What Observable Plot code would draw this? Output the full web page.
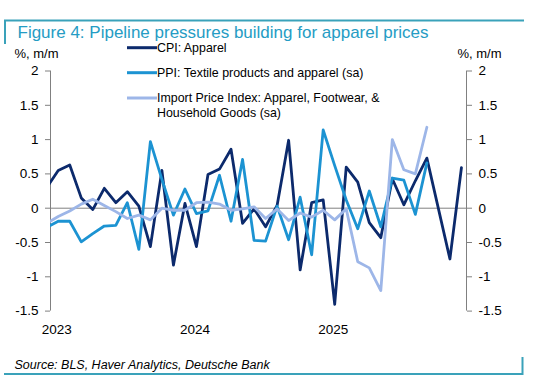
<!DOCTYPE html>
<html>
<head>
<meta charset="utf-8">
<script src="https://cdn.jsdelivr.net/npm/d3@7"></script>
<script src="https://cdn.jsdelivr.net/npm/@observablehq/plot@0.6"></script>
<style>
  html, body { margin: 0; padding: 0; background: #fff; }
  #wrap { position: relative; width: 545px; height: 385px; overflow: hidden; font-family: "Liberation Sans", Arial, sans-serif; }
  #wrap > svg { position: absolute; left: 0; top: 0; }
</style>
</head>
<body>
<div id="wrap"></div>
<script>
// ---- Data (month index: 0 = Jan 2023) ----
const months = d3.range(-1, 36); // Nov 2022 .. Dec 2025
const cpiApparel = [0.30, 0.55, 0.63, 0.15, -0.02, 0.29, 0.08, 0.24, 0.03, -0.56, 0.55, -0.83, 0.07,
  -0.56, 0.49, 0.57, 0.86, -0.22, -0.01, -0.27, 0.04, 0.99, -0.90, 0.08, 0.12,
  -1.40, 0.60, 0.38, -0.21, -0.43, 0.43, 0.05, 0.40, 0.73, null, -0.74, 0.59];
const ppiTextile = [-0.28, -0.19, -0.19, -0.49, -0.37, -0.26, -0.25, 0.08, -0.60, 0.97, 0.42, -0.10, 0.28,
  -0.08, -0.04, 0.48, -0.19, 0.71, -0.47, -0.48, 0.03, -0.46, 0.16, -0.68, 1.14,
  0.62, 0.12, -0.30, 0.25, -0.27, 0.44, 0.41, -0.09, 0.66];
const importPrice = [-0.22, -0.12, -0.04, 0.06, 0.13, 0.04, -0.05, -0.15, -0.10, -0.17, 0.00, -0.03, -0.03,
  0.08, 0.09, 0.06, -0.03, -0.01, 0.02, -0.15, -0.01, -0.18, -0.07, -0.13, -0.03,
  -0.17, -0.01, -0.78, -0.87, -1.20, 1.00, 0.56, 0.50, 1.18];

const seriesNames = ["CPI: Apparel", "PPI: Textile products and apparel (sa)", "Import Price Index: Apparel, Footwear, &\nHousehold Goods (sa)"];
const seriesColors = ["#0c2a6c", "#1c93d2", "#9db6e8"];

const yTicks = [-1.5, -1, -0.5, 0, 0.5, 1, 1.5, 2];
const xTickPos = [0, 12, 24];
const xTickLabels = ["2023", "2024", "2025"];
const xDomain = [-0.67, 35.44];
const yDomain = [-1.5, 2];

const titleText = "Figure 4: Pipeline pressures building for apparel prices";
const unitLabel = "%, m/m";
const sourceText = "Source: BLS, Haver Analytics, Deutsche Bank";

const toRows = (vals) => vals.map((v, i) => ({m: months[i], v})).filter(d => d.v != null);
const series = [cpiApparel, ppiTextile, importPrice].map(toRows);

const axisGray = "#808080";
const plot = Plot.plot({
  width: 545,
  height: 385,
  marginLeft: 50,
  marginRight: 79,
  marginTop: 70.5,
  marginBottom: 74.4,
  style: {fontFamily: '"Liberation Sans", Arial, sans-serif', fontSize: "13.5px", color: "#000", background: "transparent", overflow: "visible"},
  x: {type: "linear", domain: xDomain},
  y: {domain: yDomain},
  marks: [
    Plot.ruleY([0], {stroke: axisGray, strokeWidth: 1}),
    Plot.ruleX([xDomain[0], xDomain[1]], {y1: yDomain[0], y2: yDomain[1], stroke: axisGray, strokeWidth: 1}),
    Plot.axisY({anchor: "left", ticks: yTicks, tickFormat: d => String(d), tickSize: 5, tickPadding: 7, label: null, stroke: axisGray, fill: "#000"}),
    Plot.axisY({anchor: "right", ticks: yTicks, tickFormat: d => String(d), tickSize: 5, tickPadding: 7, label: null, stroke: axisGray, fill: "#000"}),
    Plot.axisX({ticks: xTickPos, tickFormat: d => xTickLabels[xTickPos.indexOf(d)], tickSize: 0, tickPadding: 13, label: null, fill: "#000", dx: -1.5}),
    ...series.map((rows, k) => Plot.line(rows, {x: "m", y: "v", stroke: seriesColors[k], strokeWidth: 2.8, clip: true}))
  ]
});
document.getElementById("wrap").appendChild(plot);

// ---- Annotation overlay: title, units, legend, source, frame rules ----
const teal = "#3aa2ba";
const svg = d3.select("#wrap").append("svg")
  .attr("width", 545).attr("height", 385)
  .style("font-family", '"Liberation Sans", Arial, sans-serif');

svg.append("path").attr("d", "M5,44 V20.5 H524").attr("fill", "none").attr("stroke", teal).attr("stroke-width", 2);
svg.append("path").attr("d", "M4,374 H522.5 V357").attr("fill", "none").attr("stroke", teal).attr("stroke-width", 2);

svg.append("text").attr("x", 17.5).attr("y", 38).attr("font-size", 17).attr("fill", "#259cc4").text(titleText);

svg.append("text").attr("x", 14.5).attr("y", 58).attr("font-size", 13).attr("fill", "#000").text(unitLabel);
svg.append("text").attr("x", 501.5).attr("y", 58).attr("text-anchor", "end").attr("font-size", 13).attr("fill", "#000").text(unitLabel);

const legendY = [47.7, 72.7, 98];
seriesNames.forEach((name, k) => {
  svg.append("line").attr("x1", 127).attr("x2", 157).attr("y1", legendY[k]).attr("y2", legendY[k])
    .attr("stroke", seriesColors[k]).attr("stroke-width", 3);
  const t = svg.append("text").attr("x", 157).attr("y", legendY[k] + 4.3).attr("font-size", 12.4).attr("fill", "#000");
  name.split("\n").forEach((line, j) => {
    t.append("tspan").attr("x", 157).attr("dy", j === 0 ? 0 : 15).text(line);
  });
});

svg.append("text").attr("x", 14.5).attr("y", 369).attr("font-size", 12.5).attr("font-style", "italic").attr("fill", "#000").text(sourceText);
</script>
</body>
</html>
